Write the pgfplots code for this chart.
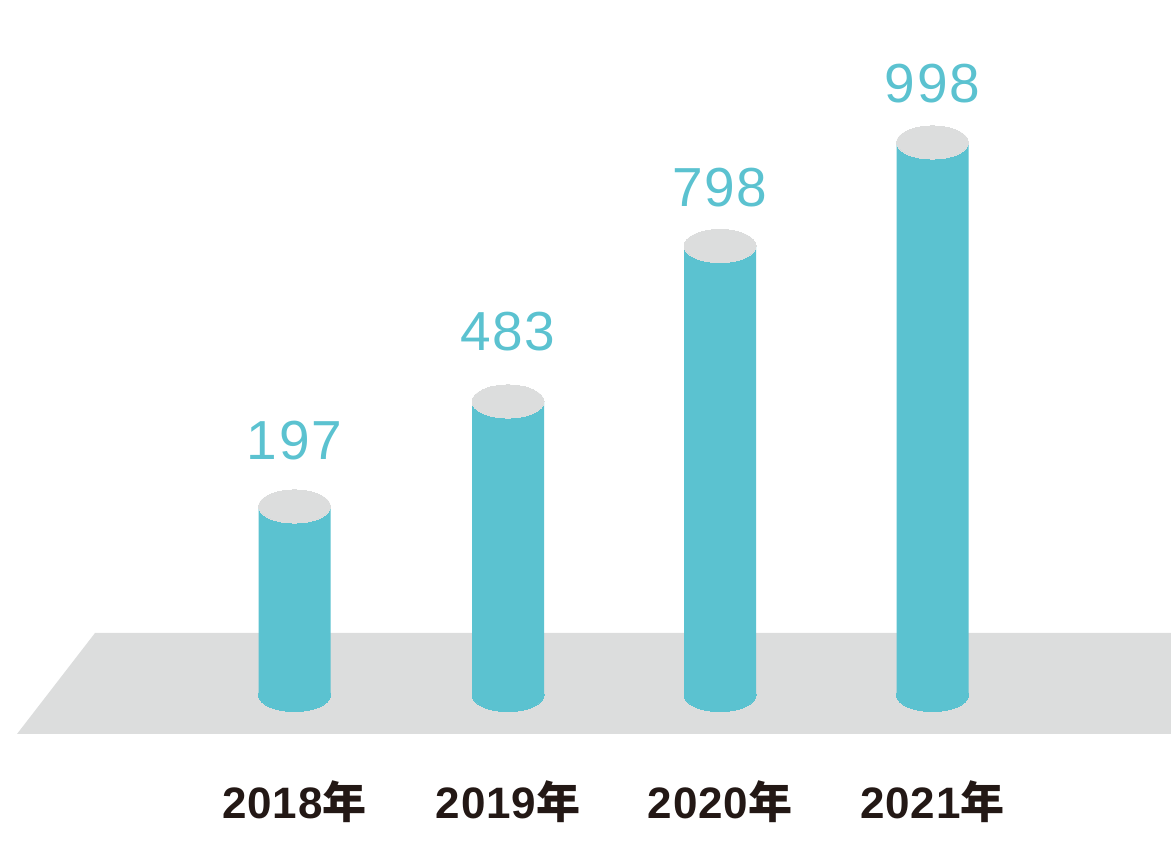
\documentclass[border=0pt]{standalone}
\usepackage{pgfplots}
\pgfplotsset{compat=1.18}
\usepackage{pgfplotstable}
\usepackage{fontspec}
\setmainfont{Liberation Sans}
\newfontfamily\cjk{Noto Sans CJK SC}
\definecolor{barc}{HTML}{5BC2D0}
\definecolor{topc}{HTML}{DCDDDD}
\definecolor{floorc}{HTML}{DCDDDD}
\definecolor{yeartxt}{HTML}{231815}

% x: bar centre, base: ellipse centre of bottom, h: drawn body height, lab: label baseline, v: value
\pgfplotstableread{
x      base  h      top    lab  v
294.5  170   188.5  358.5  405  197
508    170   293.5  463.5  514  483
720    170   449    619    658  798
932.5  170   552.5  722.5  762  998
}\bars

\pgfplotsset{
  base/.style={
    width=1171pt, height=865pt, scale only axis,
    xmin=0, xmax=1171, ymin=0, ymax=865,
    hide axis, clip=false,
  },
}
\tikzset{
  yearlab/.style={anchor=base, text=yeartxt, inner sep=0pt,
    font=\fontsize{44}{50}\selectfont\bfseries\addfontfeatures{LetterSpace=2}},
}

\begin{document}
\begin{tikzpicture}
% layer 1: floor and bottom ellipses
\begin{axis}[base]
\addplot[draw=none, forget plot] coordinates {(0,0) (1171,865)};
\addplot[fill=floorc, draw=none] coordinates {(95,232) (1171,232) (1171,131) (17,131)} -- cycle;
\addplot[only marks, mark=*, mark size=36pt, color=barc,
  mark options={yscale=0.46, fill=barc, draw=barc, line width=0pt}]
  table[x=x, y=base] {\bars};
\end{axis}
% layer 2: cylinder bodies
\begin{axis}[base, ybar stacked, bar width=72]
\addplot[fill=none, draw=none] table[x=x, y=base] {\bars};
\addplot[fill=barc, draw=none] table[x=x, y=h] {\bars};
\end{axis}
% layer 3: top ellipses, value labels, year labels
\begin{axis}[base]
\addplot[only marks, mark=*, mark size=36pt, color=topc,
  mark options={yscale=0.46, fill=topc, draw=topc, line width=0pt}]
  table[x=x, y=top] {\bars};
\addplot[only marks, mark=none, point meta=explicit symbolic,
  nodes near coords,
  nodes near coords style={anchor=base, inner sep=0pt, text=barc,
    font=\fontsize{55}{60}\selectfont\addfontfeatures{LetterSpace=3}}]
  table[x=x, y=lab, meta=v] {\bars};
\node[yearlab] at (axis cs:294.5,46) {2018{\cjk\bfseries 年}};
\node[yearlab] at (axis cs:508,46) {2019{\cjk\bfseries 年}};
\node[yearlab] at (axis cs:720,46) {2020{\cjk\bfseries 年}};
\node[yearlab] at (axis cs:932.5,46) {2021{\cjk\bfseries 年}};
\end{axis}
\end{tikzpicture}
\end{document}
